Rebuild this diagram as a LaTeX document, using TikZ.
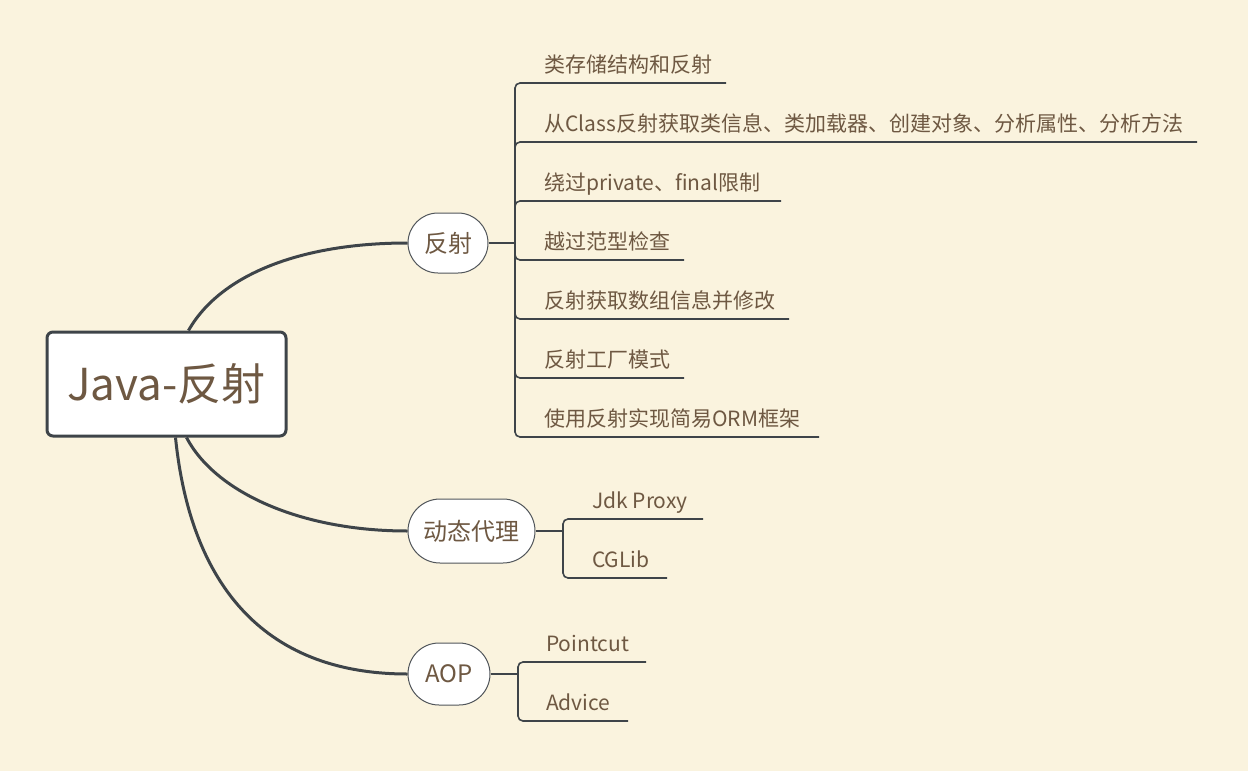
\documentclass[tikz,border=0pt]{standalone}
\usepackage{fontspec}
\setmainfont{Noto Sans CJK SC}
\definecolor{bg}{RGB}{250,243,222}
\definecolor{txt}{RGB}{110,88,66}
\definecolor{lineC}{RGB}{62,68,73}
\definecolor{midC}{RGB}{80,85,90}
\tikzset{
  rootbox/.style={draw=lineC, line width=3pt, fill=white, rounded corners=6pt, minimum width=239pt, minimum height=104pt, inner sep=0pt, font=\fontsize{44}{50}\selectfont, text=txt},
  midbox/.style={draw=midC, line width=1pt, fill=white, rounded corners=30pt, inner sep=0pt, font=\fontsize{24}{28}\selectfont, text=txt},
  leaf/.style={anchor=base west, inner sep=0pt, font=\fontsize{21}{25}\selectfont, text=txt},
  mainline/.style={draw=lineC, line width=3pt},
  branch/.style={draw=lineC, line width=2pt},
  uline/.style={draw=lineC, line width=1.6pt, rounded corners=5pt},
}
\begin{document}
\begin{tikzpicture}[x=1pt,y=-1pt]
\fill[bg] (0,0) rectangle (1248,771);
\useasboundingbox (0,0) rectangle (1248,771);

\node[rootbox] (root) at (166.5,384) {Java-反射};

\node[midbox, minimum width=80pt, minimum height=60pt] (fs) at (448,243) {反射};
\node[midbox, minimum width=127pt, minimum height=64pt, rounded corners=32pt] (dt) at (471.5,531) {动态代理};
\node[midbox, minimum width=82pt, minimum height=62pt, rounded corners=31pt] (aop) at (449,674) {AOP};

% main curves
\draw[mainline] ([xshift=22pt]root.north) .. controls (220,275) and (300,243) .. (fs.west);
\draw[mainline] ([xshift=20pt]root.south) .. controls (215,492) and (300,531) .. (dt.west);
\draw[mainline] ([xshift=9pt]root.south) .. controls (190,580) and (260,674) .. (aop.west);

% 反射 children
\coordinate (j1) at (515,243);
\draw[branch] (fs.east) -- (j1);
\foreach \i/\y/\e/\t in {
  1/83/726/类存储结构和反射,
  2/142/1197/从Class反射获取类信息、类加载器、创建对象、分析属性、分析方法,
  3/201/781/绕过private、final限制,
  4/260/684/越过范型检查,
  5/319/789/反射获取数组信息并修改,
  6/378/684/反射工厂模式,
  7/437/819/使用反射实现简易ORM框架}{
  \node[leaf] (c\i) at (544,\y-11) {\t};
  \coordinate (e\i) at (\e,\y);
  \draw[uline] (j1) |- (e\i);
}

% 动态代理 children
\coordinate (j2) at (563,531);
\draw[branch] (dt.east) -- (j2);
\node[leaf] (d1) at (592,508) {Jdk Proxy};
\coordinate (f1) at (703,519);
\draw[uline] (j2) |- (f1);
\node[leaf] (d2) at (592,567) {CGLib};
\coordinate (f2) at (667,578);
\draw[uline] (j2) |- (f2);

% AOP children
\coordinate (j3) at (518,674);
\draw[branch] (aop.east) -- (j3);
\node[leaf] (a1) at (546,651) {Pointcut};
\coordinate (g1) at (646,662);
\draw[uline] (j3) |- (g1);
\node[leaf] (a2) at (546,710) {Advice};
\coordinate (g2) at (628,721);
\draw[uline] (j3) |- (g2);
\end{tikzpicture}
\end{document}
